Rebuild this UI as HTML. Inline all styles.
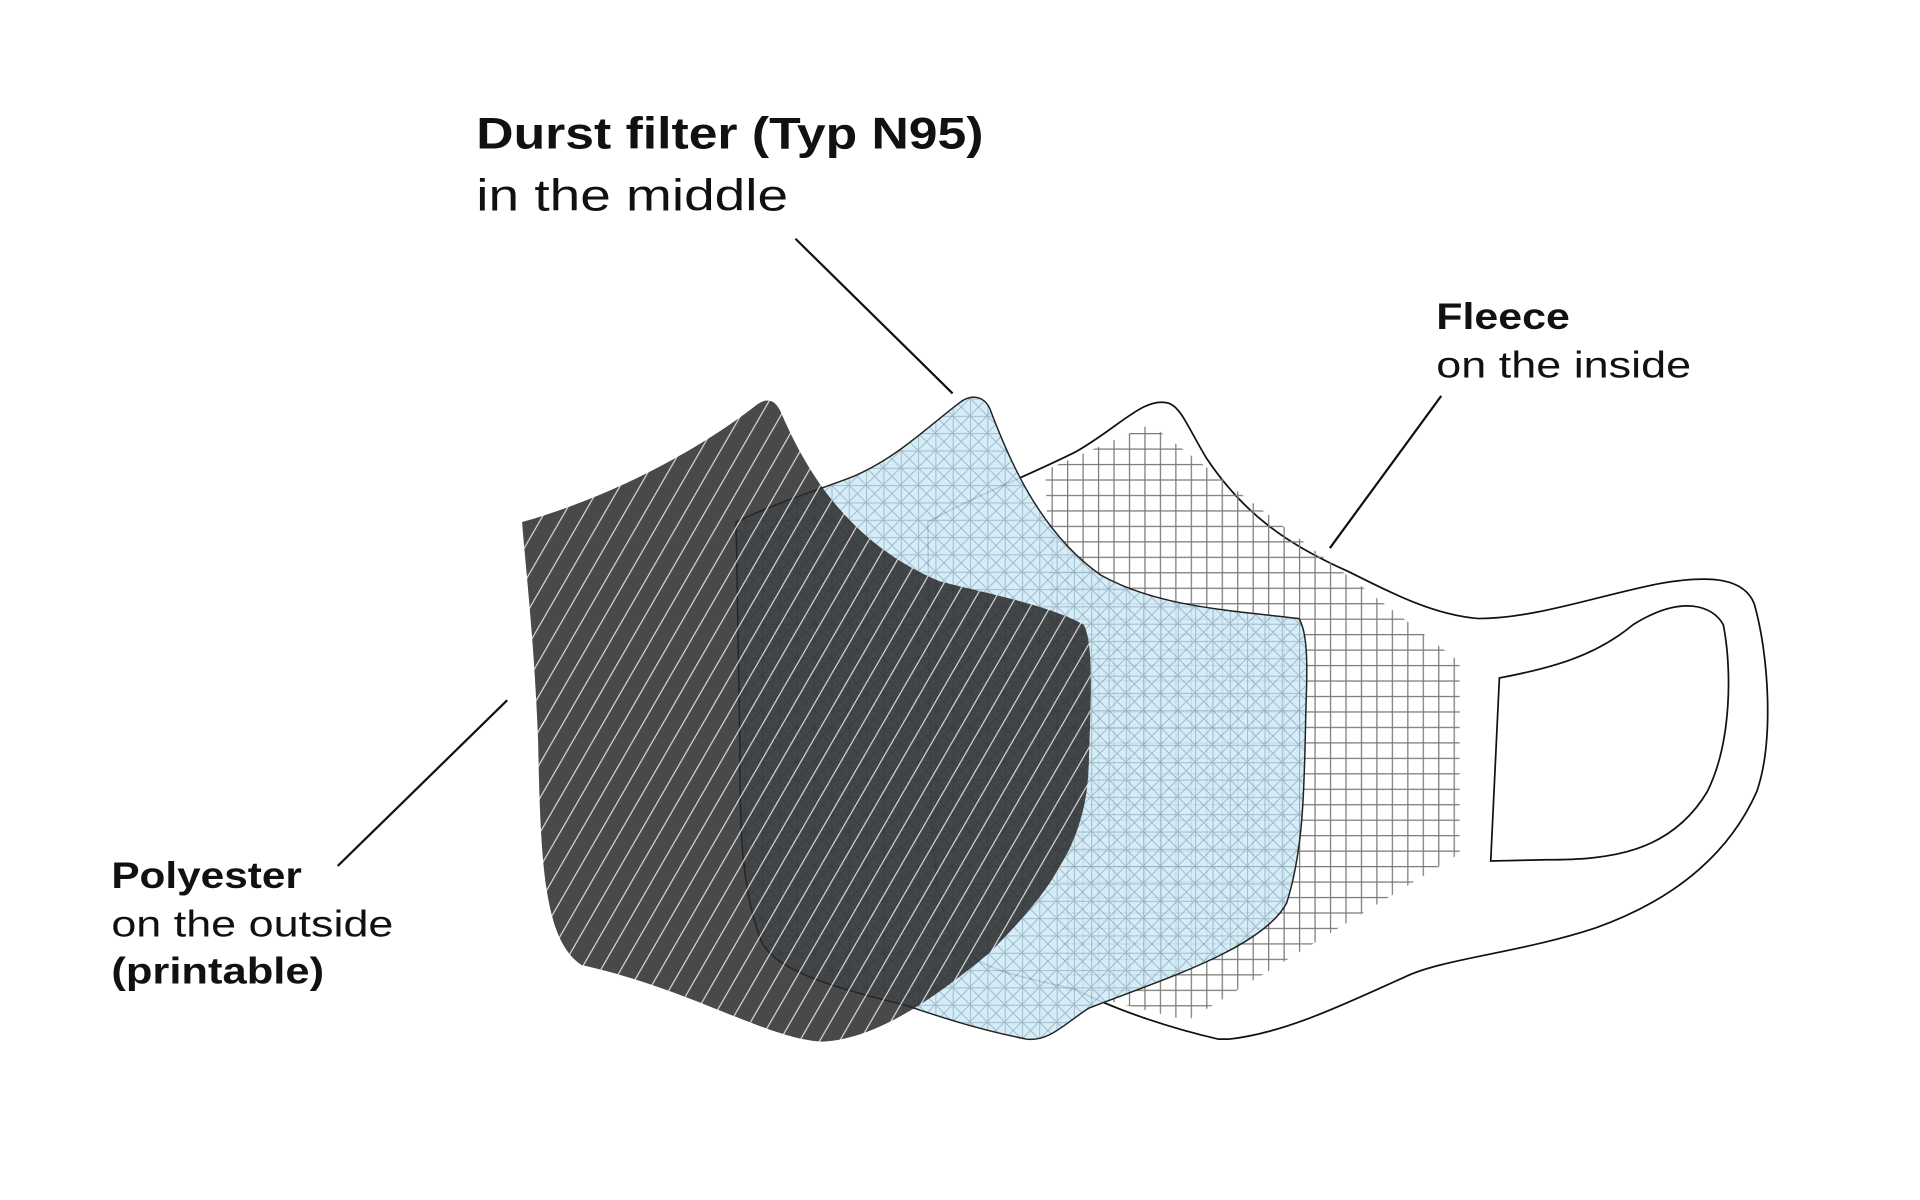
<!DOCTYPE html>
<html><head><meta charset="utf-8"><style>html,body{margin:0;padding:0;background:#fff}svg{display:block}</style></head>
<body>
<svg width="1920" height="1200" viewBox="0 0 1552 970" preserveAspectRatio="none" xmlns="http://www.w3.org/2000/svg">
<defs>
  <pattern id="grid" width="12.5" height="12.5" patternUnits="userSpaceOnUse">
    <path d="M0 0.5H12.5M0.5 0V12.5" stroke="#7a7a7a" stroke-width="1" fill="none"/>
  </pattern>
  <pattern id="blue" width="14" height="14" patternUnits="userSpaceOnUse">
    <rect width="14" height="14" fill="#cfeaf8"/>
    <path d="M0 0.5H14M0.5 0V14M0 0L14 14M14 0L0 14" stroke="#8eaab8" stroke-width="0.7" fill="none"/>
  </pattern>
  <pattern id="stripe" width="14" height="14" patternUnits="userSpaceOnUse" patternTransform="rotate(30)">
    <rect width="14" height="14" fill="rgba(38,38,38,0.84)"/>
    <path d="M0.5 0V14" stroke="#ffffff" stroke-width="0.9" opacity="0.85"/>
  </pattern>
  <clipPath id="fclip">
    <polygon points="845,380 930,343 1180,535 1180,690 960,825 860,800"/>
  </clipPath>
</defs>

<!-- Fleece -->
<path d="M750,422 C790,400 830,385 870,365 C905,345 925,320 945,326 C955,330 960,345 975,370 C1005,415 1040,440 1090,462 C1130,482 1160,497 1195,500 C1240,500 1290,482 1340,472 C1385,464 1410,468 1418,488 C1430,530 1434,600 1420,640 C1400,685 1360,725 1290,750 C1230,770 1165,775 1135,790 C1090,810 1040,835 993,840 L985,840 C950,832 905,818 870,800 C830,790 790,785 770,760 C755,720 752,680 752,600 Z" fill="#fff" stroke="#111" stroke-width="1.4"/>
<rect x="840" y="340" width="345" height="490" fill="url(#grid)" clip-path="url(#fclip)"/>
<path d="M1212,548 C1255,540 1290,530 1320,505 C1360,480 1385,490 1393,505 C1400,540 1400,600 1380,640 C1350,690 1300,695 1250,695 L1205,696 Z" fill="#fff" stroke="#111" stroke-width="1.4"/>

<!-- Blue filter -->
<path d="M595,422 C630,405 665,395 690,385 C725,370 750,345 775,326 C785,318 795,320 800,330 C815,370 840,430 890,465 C935,490 990,493 1050,500 C1056,510 1057,530 1056,560 C1054,620 1056,680 1040,730 C1020,768 930,795 880,815 C860,828 848,842 830,840 C790,832 760,822 730,812 C680,800 625,785 615,760 C600,720 598,680 598,600 Z" fill="url(#blue)" fill-opacity="0.88" stroke="#222" stroke-width="1.2"/>

<!-- Polyester -->
<path d="M422,422 C500,400 570,360 612,327 C622,320 628,325 632,335 C660,400 700,445 760,470 C800,480 850,490 876,505 C884,520 882,560 880,620 C878,680 850,720 800,770 C740,820 700,840 665,842 C620,840 560,800 470,780 C440,760 437,700 435,600 C432,520 425,460 422,422 Z" fill="url(#stripe)"/>

<!-- leader lines -->
<g stroke="#111" stroke-width="1.8">
  <line x1="643" y1="193" x2="770" y2="318"/>
  <line x1="1165" y1="320" x2="1075" y2="443"/>
  <line x1="410" y1="566" x2="273" y2="700"/>
</g>

<g font-family="'Liberation Sans', sans-serif" fill="#111">
  <text x="385" y="120" font-size="36" font-weight="bold" textLength="410" lengthAdjust="spacingAndGlyphs">Durst filter (Typ N95)</text>
  <text x="385" y="170" font-size="36" textLength="252" lengthAdjust="spacingAndGlyphs">in the middle</text>
  <text x="1161" y="266" font-size="30" font-weight="bold" textLength="108" lengthAdjust="spacingAndGlyphs">Fleece</text>
  <text x="1161" y="305" font-size="30" textLength="206" lengthAdjust="spacingAndGlyphs">on the inside</text>
  <text x="90" y="718" font-size="30" font-weight="bold" textLength="154" lengthAdjust="spacingAndGlyphs">Polyester</text>
  <text x="90" y="757" font-size="30" textLength="228" lengthAdjust="spacingAndGlyphs">on the outside</text>
  <text x="90" y="795" font-size="30" font-weight="bold" textLength="172" lengthAdjust="spacingAndGlyphs">(printable)</text>
</g>
</svg>
</body></html>
